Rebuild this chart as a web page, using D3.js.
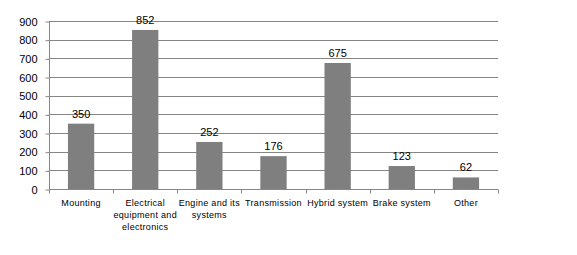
<!DOCTYPE html>
<html><head><meta charset="utf-8">
<script src="https://cdn.jsdelivr.net/npm/d3@7"></script>
<style>body{margin:0;background:#fff}svg{display:block;font-family:"Liberation Sans",Arial,sans-serif}</style>
</head><body>
<svg id="c" width="577" height="255"></svg>
<script>
const categories = ["Mounting", "Electrical equipment and electronics", "Engine and its systems", "Transmission", "Hybrid system", "Brake system", "Other"];
const categoryLines = [["Mounting"], ["Electrical", "equipment and", "electronics"], ["Engine and its", "systems"], ["Transmission"], ["Hybrid system"], ["Brake system"], ["Other"]];
const values = [350, 852, 252, 176, 675, 123, 62];
const yTicks = [0, 100, 200, 300, 400, 500, 600, 700, 800, 900];

(function () {
const svg = d3.select("#c");
const pLeft = 49, pRight = 498, pTop = 21, pBottom = 189;
const x = d3.scaleBand().domain(categories).range([pLeft, pRight]).paddingInner(0.59).paddingOuter(0.295);
const y = d3.scaleLinear().domain([0, 900]).range([pBottom, pTop]);

// gridlines
svg.append("g").selectAll("line").data(yTicks.filter(d => d > 0)).join("line")
  .attr("x1", pLeft).attr("x2", pRight)
  .attr("y1", d => Math.round(y(d)) + 0.5).attr("y2", d => Math.round(y(d)) + 0.5)
  .attr("stroke", "#868686").attr("stroke-width", 1);

// bars
svg.append("g").selectAll("rect").data(values).join("rect")
  .attr("x", (d, i) => x(categories[i]))
  .attr("width", x.bandwidth())
  .attr("y", d => y(d))
  .attr("height", d => pBottom - y(d))
  .attr("fill", "#7f7f7f");

// y axis
const yAxis = d3.axisLeft(y).tickValues(yTicks).tickSize(4).tickPadding(8);
const gy = svg.append("g").attr("transform", `translate(${pLeft + 0.5},0.5)`).call(yAxis);
gy.select(".domain").attr("stroke", "#868686").attr("d", `M0,${pTop}V${pBottom}`);
gy.selectAll(".tick line").attr("stroke", "#868686");
gy.selectAll(".tick text").attr("font-size", 11).attr("fill", "#000").attr("font-family", "Liberation Sans, Arial, sans-serif");

// x axis
const xBand = d3.scaleBand().domain(categories).range([pLeft, pRight]);
const gx = svg.append("g").attr("transform", `translate(0,${pBottom + 0.5})`);
gx.append("line").attr("x1", pLeft).attr("x2", pRight).attr("stroke", "#868686");
gx.selectAll("line.t").data(categories.concat(["_end"])).join("line").attr("class", "t")
  .attr("x1", (d, i) => Math.round(pLeft + i * xBand.bandwidth()) + 0.5)
  .attr("x2", (d, i) => Math.round(pLeft + i * xBand.bandwidth()) + 0.5)
  .attr("y1", 0).attr("y2", 4).attr("stroke", "#868686");

// category labels
const lab = svg.append("g").selectAll("text").data(categories).join("text")
  .attr("text-anchor", "middle").attr("font-size", 9).attr("fill", "#000")
  .attr("letter-spacing", 0.3)
  .attr("transform", d => `translate(${xBand(d) + xBand.bandwidth() / 2},${pBottom + 17})`);
lab.each(function (d, i) {
  d3.select(this).selectAll("tspan").data(categoryLines[i]).join("tspan")
    .attr("x", 0).attr("dy", (t, j) => j === 0 ? 0 : 12.2).text(t => t);
});

// value labels
svg.append("g").selectAll("text").data(values).join("text")
  .attr("x", (d, i) => x(categories[i]) + x.bandwidth() / 2)
  .attr("y", d => y(d) - 6)
  .attr("text-anchor", "middle").attr("font-size", 11).attr("fill", "#000")
  .text(d => d);
})();
</script>
</body></html>
